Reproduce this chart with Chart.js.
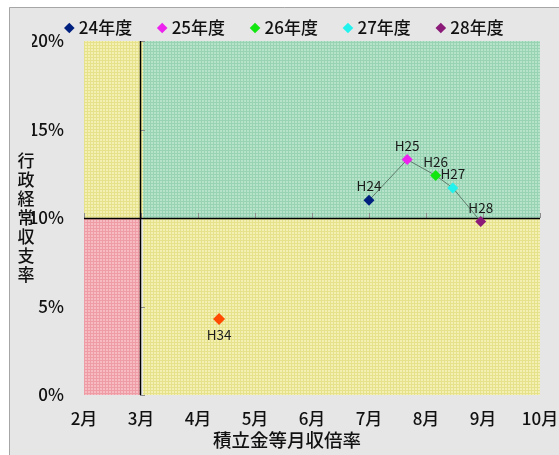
<!DOCTYPE html>
<html lang="ja">
<head>
<meta charset="utf-8">
<script src="https://cdn.jsdelivr.net/npm/chart.js@4.4.1/dist/chart.umd.min.js"></script>
<style>
  html, body { margin: 0; padding: 0; background: #fff; }
</style>
</head>
<body>
<canvas id="grafico" width="559" height="455"></canvas>
<script>
// 年度ごとの積立金等月収倍率（月）と行政経常収支率（%）
const anos = ["24年度", "25年度", "26年度", "27年度", "28年度"];
const nomesPontos = ["H24", "H25", "H26", "H27", "H28"];
const mesesRatio = [7.0, 7.67, 8.17, 8.47, 8.96];
const taxaSaldo = [11.0, 13.3, 12.4, 11.7, 9.8];
const coresAnos = ["#00207f", "#ee22ee", "#11e611", "#22f2ee", "#8b1a78"];

// 目標値
const nomeMeta = "H34";
const metaMeses = [4.37];
const metaTaxa = [4.3];
const corMeta = "#ff4a00";

// 軸の範囲と区切り
const xMin = 2, xMax = 10, xStep = 1;
const yMin = 0, yMax = 20, yStep = 5;
const corteX = 3;
const corteY = 10;

const FONTE = "'Noto Sans CJK JP', 'Noto Sans', sans-serif";

function pontos(xs, ys) {
  return xs.map((x, i) => ({ x: x, y: ys[i] }));
}

function hachura(ctx, base, linha) {
  const c = document.createElement("canvas");
  c.width = 3;
  c.height = 3;
  const g = c.getContext("2d");
  g.fillStyle = base;
  g.fillRect(0, 0, 3, 3);
  g.fillStyle = linha;
  g.fillRect(0, 0, 3, 1);
  g.fillRect(0, 0, 1, 3);
  return ctx.createPattern(c, "repeat");
}

// 外枠の背景
const fundo = {
  id: "fundo",
  beforeDraw(chart) {
    const ctx = chart.ctx;
    ctx.save();
    ctx.fillStyle = "#ffffff";
    ctx.fillRect(0, 0, chart.width, chart.height);
    ctx.fillStyle = "#e6e6e6";
    ctx.fillRect(9, 7, chart.width - 9, chart.height - 7);
    ctx.strokeStyle = "#a6a6a6";
    ctx.lineWidth = 1;
    ctx.beginPath();
    ctx.moveTo(9.5, chart.height);
    ctx.lineTo(9.5, 7.5);
    ctx.lineTo(chart.width, 7.5);
    ctx.stroke();
    ctx.restore();
  },
};

// 4つの区分と軸線
const quadrantes = {
  id: "quadrantes",
  beforeDatasetsDraw(chart) {
    const ctx = chart.ctx;
    const a = chart.chartArea;
    const sx = chart.scales.x;
    const sy = chart.scales.y;
    const px = Math.round(sx.getPixelForValue(corteX)) - 1;
    const py = Math.round(sy.getPixelForValue(corteY));
    const amarelo = hachura(ctx, "#f4f0b4", "#e6e28c");
    const verde = hachura(ctx, "#b6e3c9", "#98d3b3");
    const vermelho = hachura(ctx, "#f6bcc1", "#ee9ca5");

    ctx.save();
    ctx.fillStyle = amarelo;
    ctx.fillRect(a.left, a.top, px - a.left + 3, py - a.top);
    ctx.fillStyle = verde;
    ctx.fillRect(px + 3, a.top, a.right - px - 3, py - a.top);
    ctx.fillStyle = vermelho;
    ctx.fillRect(a.left, py, px - a.left, a.bottom - py);
    ctx.fillStyle = amarelo;
    ctx.fillRect(px + 3, py, a.right - px - 3, a.bottom - py);

    // 目盛り
    ctx.strokeStyle = "#8c8c8c";
    ctx.lineWidth = 1;
    ctx.beginPath();
    sy.ticks.forEach((t) => {
      const y = Math.round(sy.getPixelForValue(t.value)) + 0.5;
      ctx.moveTo(px, y);
      ctx.lineTo(px + 5, y);
    });
    sx.ticks.forEach((t) => {
      const x = Math.round(sx.getPixelForValue(t.value)) + 0.5;
      ctx.moveTo(x, py);
      ctx.lineTo(x, py - 5);
    });
    ctx.stroke();

    ctx.strokeStyle = "#000000";
    ctx.lineWidth = 1.5;
    ctx.beginPath();
    ctx.moveTo(px + 0.5, a.top);
    ctx.lineTo(px + 0.5, a.bottom);
    ctx.moveTo(a.left, py + 0.5);
    ctx.lineTo(a.right, py + 0.5);
    ctx.stroke();
    ctx.restore();
  },
};

// 点のラベルと軸タイトル
const rotulos = {
  id: "rotulos",
  afterDatasetsDraw(chart) {
    const ctx = chart.ctx;
    ctx.save();
    ctx.font = "13.5px " + FONTE;
    ctx.fillStyle = "#1a1a1a";
    ctx.textAlign = "center";
    ctx.textBaseline = "middle";
    for (let i = 0; i < anos.length; i++) {
      const el = chart.getDatasetMeta(i).data[0];
      ctx.fillText(nomesPontos[i], el.x, el.y - 14);
    }
    const meta = chart.getDatasetMeta(anos.length).data[0];
    ctx.fillText(nomeMeta, meta.x, meta.y + 16);
    ctx.restore();
  },
  afterDraw(chart) {
    const ctx = chart.ctx;
    ctx.save();
    ctx.fillStyle = "#111111";
    ctx.textAlign = "center";
    ctx.textBaseline = "middle";
    ctx.font = "500 17px " + FONTE;
    const titulo = "行政経常収支率";
    const meio = chart.scales.y.getPixelForValue(corteY);
    for (let i = 0; i < titulo.length; i++) {
      ctx.fillText(titulo[i], 26, meio + (i - 3) * 19);
    }
    ctx.font = "500 18.5px " + FONTE;
    ctx.fillText("積立金等月収倍率", 287, 440);
    ctx.restore();
  },
};

// 凡例の高さを固定する
const alturaLegenda = {
  id: "alturaLegenda",
  beforeInit(chart) {
    const lg = chart.legend;
    if (!lg) return;
    const fitOriginal = lg.fit;
    lg.fit = function () {
      fitOriginal.call(this);
      this.height = 50.5;
    };
  },
};

const dadosAnos = anos.map((nome, i) => ({
  label: nome,
  data: [{ x: mesesRatio[i], y: taxaSaldo[i] }],
  backgroundColor: coresAnos[i],
  borderColor: coresAnos[i],
  borderWidth: 0,
  pointStyle: "rectRot",
  pointRadius: 5.5,
  showLine: false,
}));

const config = {
  type: "scatter",
  data: {
    datasets: [
      ...dadosAnos,
      {
        label: nomeMeta,
        data: pontos(metaMeses, metaTaxa),
        backgroundColor: corMeta,
        borderColor: corMeta,
        borderWidth: 0,
        pointStyle: "rectRot",
        pointRadius: 6,
        showLine: false,
      },
      {
        label: "推移",
        data: pontos(mesesRatio, taxaSaldo),
        borderColor: "#5f7a6c",
        borderWidth: 1,
        pointRadius: 0,
        showLine: true,
      },
    ],
  },
  options: {
    responsive: false,
    animation: false,
    layout: {
      padding: { top: -9.5, left: 32, right: 19, bottom: 0 },
    },
    scales: {
      x: {
        type: "linear",
        min: xMin,
        max: xMax,
        afterFit(scale) {
          scale.height = 60;
          scale.paddingLeft = 0;
          scale.paddingRight = 0;
        },
        ticks: {
          stepSize: xStep,
          padding: 13,
          color: "#111111",
          font: { family: FONTE, size: 17, weight: 500 },
          callback: (v) => v + "月",
        },
        grid: { display: false, drawTicks: false },
        border: { display: false },
      },
      y: {
        min: yMin,
        max: yMax,
        afterFit(scale) {
          scale.width = 52;
          scale.paddingTop = 0;
          scale.paddingBottom = 0;
        },
        ticks: {
          stepSize: yStep,
          padding: 20,
          color: "#111111",
          font: { family: FONTE, size: 17, weight: 500 },
          callback: (v) => v + "%",
        },
        grid: { display: false, drawTicks: false },
        border: { display: false },
      },
    },
    plugins: {
      legend: {
        labels: {
          usePointStyle: true,
          boxWidth: 2,
          boxHeight: 7.5,
          padding: 29,
          color: "#111111",
          font: { family: FONTE, size: 17, weight: 500 },
          filter: (item) => item.datasetIndex < anos.length,
        },
      },
      tooltip: { enabled: false },
    },
  },
  plugins: [alturaLegenda, fundo, quadrantes, rotulos],
};

const grafico = new Chart(document.getElementById("grafico"), config);
</script>
</body>
</html>
